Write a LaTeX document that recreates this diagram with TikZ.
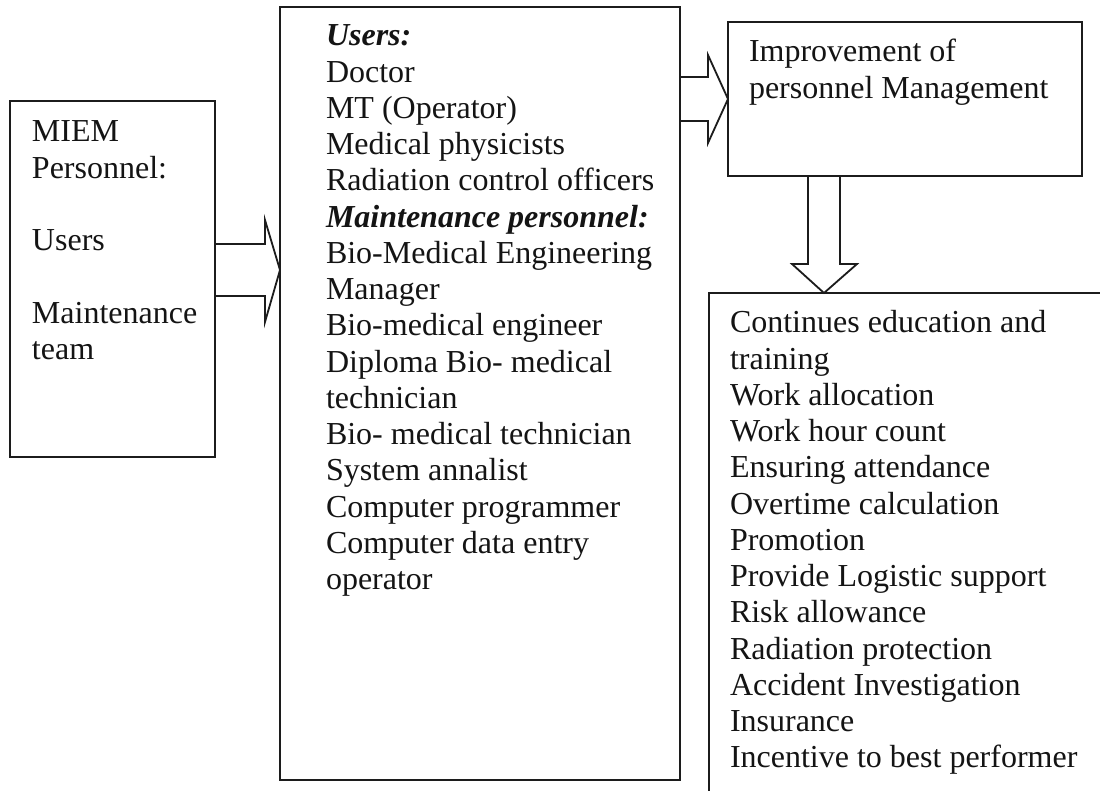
\documentclass[tikz,border=0pt]{standalone}
\usepackage{fontspec}
\setmainfont{Liberation Serif}
\usetikzlibrary{calc}
\definecolor{linec}{HTML}{1C1C1C}
\definecolor{inkc}{HTML}{141414}
\newcommand\bodyfont{\fontsize{16pt}{18.125pt}\selectfont}
\newcommand\lines[1]{\begin{tabular}[t]{@{}l@{}}#1\end{tabular}}
\tikzset{
  box/.style={draw=linec, line width=0.9pt, inner sep=0pt, outer sep=0pt},
  blk/.style={draw=linec, line width=0.9pt, line join=miter},
  txt/.style={anchor=base west, inner sep=0pt, outer sep=0pt, text=inkc, font=\bodyfont},
}
\begin{document}
\begin{tikzpicture}[x=0.5pt, y=-0.5pt]
\useasboundingbox (0,0) rectangle (1100,791);
\clip (0,0) rectangle (1100,791);
\fill[white] (0,0) rectangle (1100,791);

% boxes
\node[box, minimum width=102.5pt, minimum height=178pt] (lbox) at (112.5,279) {};
\node[box, minimum width=200pt, minimum height=386.5pt] (mbox) at (480,393.5) {};
\node[box, minimum width=177pt, minimum height=77pt] (tbox) at (905,99) {};
\node[box, minimum width=210.5pt, minimum height=263.5pt] (rbox) at (919.5,556.5) {};

% texts
\node[txt] (ltext) at (32,142) {\lines{MIEM\\Personnel:\\ \\Users\\ \\Maintenance\\team}};
\node[txt] (mtext) at (326,46) {\lines{\textbf{\textit{Users:}}\\Doctor\\MT (Operator)\\Medical physicists\\Radiation control officers\\\textbf{\textit{Maintenance personnel:}}\\Bio-Medical Engineering\\Manager\\Bio-medical engineer\\Diploma Bio- medical\\technician\\Bio- medical technician\\System annalist\\Computer programmer\\Computer data entry\\operator}};
\node[txt] (ttext) at (749,62) {\lines{Improvement of\\personnel Management}};
\node[txt] (rtext) at (730,333) {\lines{Continues education and\\training\\Work allocation\\Work hour count\\Ensuring attendance\\Overtime calculation\\Promotion\\Provide Logistic support\\Risk allowance\\Radiation protection\\Accident Investigation\\Insurance\\Incentive to best performer}};

% block arrows
\draw[blk] (lbox.east |- 0,244) -- (265,244) -- (265,220) -- (mbox.west |- 0,270)
  -- (265,322) -- (265,296) -- (lbox.east |- 0,296);
\draw[blk] (mbox.east |- 0,77) -- (708,77) -- (708,55) -- (tbox.west)
  -- (708,143) -- (708,121) -- (mbox.east |- 0,121);
\draw[blk] (tbox.south -| 808,0) -- (808,264) -- (792,264) -- (rbox.north -| 824,0)
  -- (857,264) -- (840,264) -- (tbox.south -| 840,0);
\end{tikzpicture}
\end{document}
